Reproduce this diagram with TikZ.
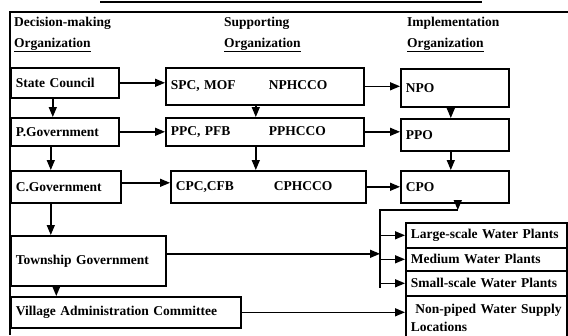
\documentclass[tikz,border=0pt]{standalone}
\usepackage{fontspec}
\setmainfont{Liberation Serif}
\usetikzlibrary{arrows.meta,positioning,calc}
\tikzset{
    org box/.style={
        draw,line width=1.6pt,
        anchor=north west,
        inner xsep=5pt,inner ysep=0pt,
        align=left,
        font=\bfseries\fontsize{13.5}{18}\selectfont
    },
    head text/.style={
        anchor=west,inner sep=0pt,
        font=\bfseries\fontsize{13.5}{16}\selectfont
    },
    link/.style={->,line width=1.5pt},
    >={Triangle[length=10pt,width=8pt]}
}

\begin{document}
\begin{tikzpicture}[x=1pt,y=-1pt]
\path[use as bounding box,clip] (0,0) rectangle (568,335);
% frame
\draw[line width=2.5pt] (100,2) -- (482,2);
\draw[line width=2pt] (568,12) -- (10,12) -- (10,335);
\foreach \x/\name/\txt in {14/dm/Decision-making,224/sup/Supporting,407/imp/Implementation}{
    \node[head text] (\name-head) at (\x,23) {\txt};
    \node[head text] (\name-org) at (\x,45) {\underline{Organization}};
}
% decision-making
\node[org box,text width=98pt,minimum height=30pt] (state) at (10,67) {State Council};
\node[org box,text width=98pt,minimum height=28pt] (pgov) at (10,117) {P.Government};
\node[org box,text width=100pt,minimum height=32pt] (cgov) at (10,170) {C.Government};
\node[org box,text width=145pt,minimum height=50pt] (town) at (10,235) {Township Government};
\node[org box,text width=220pt,minimum height=31pt] (village) at (10,296) {Village Administration Committee};
% supporting
\node[org box,text width=188pt,minimum height=37pt] (spc) at (165,67) {\makebox[98pt][l]{SPC, MOF}NPHCCO};
\node[org box,text width=188pt,minimum height=28pt] (ppc) at (165,117) {\makebox[98pt][l]{PPC, PFB}PPHCCO};
\node[org box,text width=185pt,minimum height=32pt] (cpc) at (170,170) {\makebox[98pt][l]{CPC,CFB}CPHCCO};
% implementation
\node[org box,text width=98pt,minimum height=38pt] (npo) at (400,68) {NPO};
\node[org box,text width=98pt,minimum height=32pt] (ppo) at (400,118) {PPO};
\node[org box,text width=98pt,minimum height=32pt] (cpo) at (400,170) {CPO};
\foreach \name/\y/\h/\txt in {large/222/25/Large-scale Water Plants,
                              medium/247/23/Medium Water Plants,
                              small/270/25/Small-scale Water Plants}
    \node[org box,text width=151pt,minimum height=\h pt] (\name) at (405,\y) {\txt};
\node[org box,text width=151pt,minimum height=45pt] (nonpiped) at (405,295) {\ Non-piped Water Supply\\Locations};

% vertical links
\draw[link] ([xshift=-12pt]state.south) -- ([xshift=-12pt]pgov.north);
\draw[link] ([xshift=-14pt]pgov.south) -- ([xshift=-14pt]pgov.south |- cgov.north);
\draw[link] ([xshift=-15pt]cgov.south) -- ([xshift=-15pt]cgov.south |- town.north);
\draw[link] ([xshift=-32pt]town.south) -- ([xshift=-32pt]town.south |- village.north);
\draw[link] ([xshift=-9pt]spc.south) -- ([xshift=-9pt]ppc.north);
\draw[link] ([xshift=-9pt]ppc.south) -- ([xshift=-9pt]ppc.south |- cpc.north);
\draw[link] ([xshift=-4pt]npo.south) -- ([xshift=-4pt]ppo.north);
\draw[link] ([xshift=-4pt]ppo.south) -- ([xshift=-4pt]cpo.north);
% horizontal links
\draw[link] (state.east) -- (state.east -| spc.west);
\draw[link] (pgov.east) -- (pgov.east -| ppc.west);
\draw[link] ([yshift=4pt]cgov.east) -- ([yshift=4pt]cgov.east -| cpc.west);
\draw[link] (spc.east) -- (spc.east -| npo.west);
\draw[link] (ppc.east) -- (ppc.east -| ppo.west);
\draw[link] (cpc.east) -- (cpc.east -| cpo.west);
% distribution to water plants
\coordinate (bustop) at (380,210);
\coordinate (busend) at (380,288);
\draw[link] ([xshift=3pt]cpo.south) -- ([xshift=3pt]cpo.south |- bustop);
\draw[line width=1.5pt] ([xshift=3pt]cpo.south |- bustop) -- (bustop) -- (busend);
\foreach \b in {large,medium,small}
    \draw[link] (\b.west -| bustop) -- (\b.west);
\draw[link] ([yshift=7pt]town.east) -- ([yshift=7pt]town.east -| bustop);
\draw[link] (village.east) -- (village.east -| nonpiped.west);
\end{tikzpicture}
\end{document}
